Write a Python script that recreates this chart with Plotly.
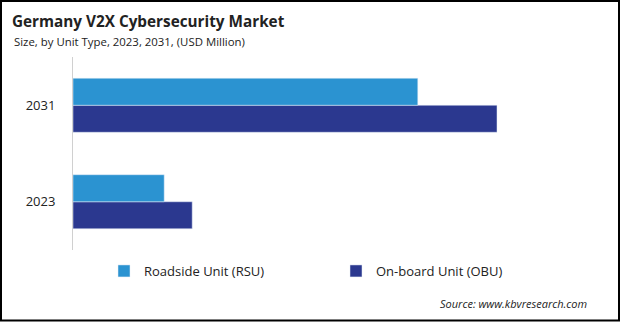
import plotly.graph_objects as go

years = ["2023", "2031"]
rsu = [11.4, 43.1]
obu = [14.9, 53.0]
series_names = ["Roadside Unit (RSU)", "On-board Unit (OBU)"]
colors = ["#2b93d1", "#2b388f"]

W, H = 620, 322
ml, mr, mt, mb = 73, 19, 57, 72
pw, ph = W - ml - mr, H - mt - mb

def px(x):
    return (x - ml) / pw

def py(y):
    return (H - mb - y) / ph

fig = go.Figure()
fig.add_trace(go.Bar(y=years, x=obu, name=series_names[1], orientation="h",
                     marker_color=colors[1], legendrank=2))
fig.add_trace(go.Bar(y=years, x=rsu, name=series_names[0], orientation="h",
                     marker_color=colors[0], legendrank=1))

fig.update_layout(
    width=W, height=H,
    margin=dict(l=ml, r=mr, t=mt, b=mb),
    paper_bgcolor="white", plot_bgcolor="white",
    barmode="group", bargap=0.44, bargroupgap=0,
    font=dict(family="Open Sans", color="#222"),
    showlegend=True,
    legend=dict(orientation="h", x=px(104), y=py(271), xanchor="left", yanchor="middle",
                entrywidth=187, entrywidthmode="pixels",
                font=dict(size=13, color="#222"), traceorder="normal"),
    xaxis=dict(range=[0, 66], showgrid=False, showticklabels=False, zeroline=False,
               showline=False, ticks=""),
    yaxis=dict(type="category", range=[-0.5, 1.5], showgrid=False, showline=True,
               linecolor="#d0d0d0", linewidth=1, ticks="", ticklabelstandoff=14,
               tickfont=dict(size=13, color="#222")),
    title=dict(text="<b>Germany V2X Cybersecurity Market</b>", x=12 / W, xanchor="left",
               y=1 - 22 / H, yanchor="middle", font=dict(size=15.3, color="#222")),
    annotations=[
        dict(text="Size, by Unit Type, 2023, 2031, (USD Million)", xref="paper", yref="paper",
             x=px(12), y=py(42), xanchor="left", yanchor="middle", showarrow=False,
             font=dict(size=11.4, color="#222")),
        dict(text="<i>Source: www.kbvresearch.com</i>", xref="paper", yref="paper",
             x=px(589), y=py(303), xanchor="right", yanchor="middle", showarrow=False,
             font=dict(size=11, color="#222")),
    ],
    shapes=[dict(type="rect", xref="paper", yref="paper", x0=px(1), x1=px(619),
                 y0=py(320.5), y1=py(1), line=dict(color="black", width=2))],
)

fig.write_html("out.html")
